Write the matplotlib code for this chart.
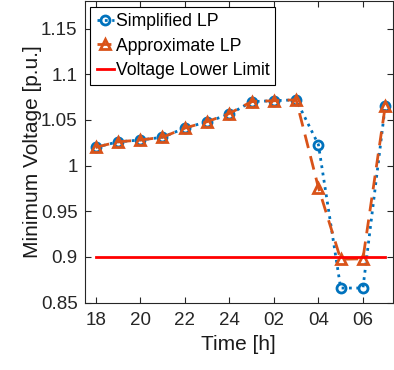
import matplotlib
matplotlib.use("Agg")
import matplotlib.pyplot as plt

hours = [18, 19, 20, 21, 22, 23, 24, 25, 26, 27, 28, 29, 30, 31]
simplified = [1.020, 1.026, 1.028, 1.031, 1.041, 1.048, 1.056, 1.070, 1.071, 1.072, 1.023, 0.866, 0.866, 1.065]
approximate = [1.020, 1.026, 1.028, 1.031, 1.041, 1.048, 1.057, 1.070, 1.071, 1.072, 0.976, 0.8975, 0.898, 1.065]
limit = [0.9] * len(hours)
tick_pos = [18, 20, 22, 24, 26, 28, 30]
tick_lbl = ["18", "20", "22", "24", "02", "04", "06"]
y_ticks = [0.85, 0.9, 0.95, 1.0, 1.05, 1.1, 1.15]
y_lbl = ["0.85", "0.9", "0.95", "1", "1.05", "1.1", "1.15"]

plt.rcParams['font.family'] = ['Liberation Sans', 'DejaVu Sans']

fig = plt.figure(figsize=(3.94, 3.70), dpi=100)
ax = fig.add_axes([0.2145, 0.182, 0.783, 0.815])

blue = (0, 0.447, 0.741)
orange = (0.85, 0.325, 0.098)

ax.plot(hours, simplified, linestyle=':', color=blue, linewidth=2, marker='o',
        markersize=6.5, markerfacecolor='none', markeredgewidth=2, label='Simplified LP')
ax.plot(hours, approximate, linestyle='--', color=orange, linewidth=2, marker='^',
        markersize=7.5, markerfacecolor='none', markeredgewidth=2, label='Approximate LP',
        dashes=(5, 3))
ax.plot(hours, limit, color='red', linewidth=2, label='Voltage Lower Limit')

ax.set_xlim(17.5, 31.35)
ax.set_ylim(0.85, 1.18)
ax.set_xticks(tick_pos)
ax.set_xticklabels(tick_lbl)
ax.set_yticks(y_ticks)
ax.set_yticklabels(y_lbl)
ax.tick_params(direction='in', top=True, right=True, labelsize=13.5, colors=(0.15, 0.15, 0.15),
               length=4, width=0.8)
ax.tick_params(axis='x', pad=7)
ax.tick_params(axis='y', pad=5)
for s in ax.spines.values():
    s.set_color((0.15, 0.15, 0.15))
    s.set_linewidth(0.8)

ax.set_xlabel('Time [h]', fontsize=15, color=(0.1, 0.1, 0.1), labelpad=4)
ax.set_ylabel('Minimum Voltage [p.u.]', fontsize=15, color=(0.1, 0.1, 0.1), labelpad=-0.8)

leg = ax.legend(loc='upper left', fontsize=12.7, frameon=True, fancybox=False,
                edgecolor='black', framealpha=1, borderpad=0.35, labelspacing=0.42,
                handlelength=1.0, handletextpad=0.08, borderaxespad=0.33)
leg.get_frame().set_linewidth(0.8)

fig.savefig('out.png', dpi=100)
